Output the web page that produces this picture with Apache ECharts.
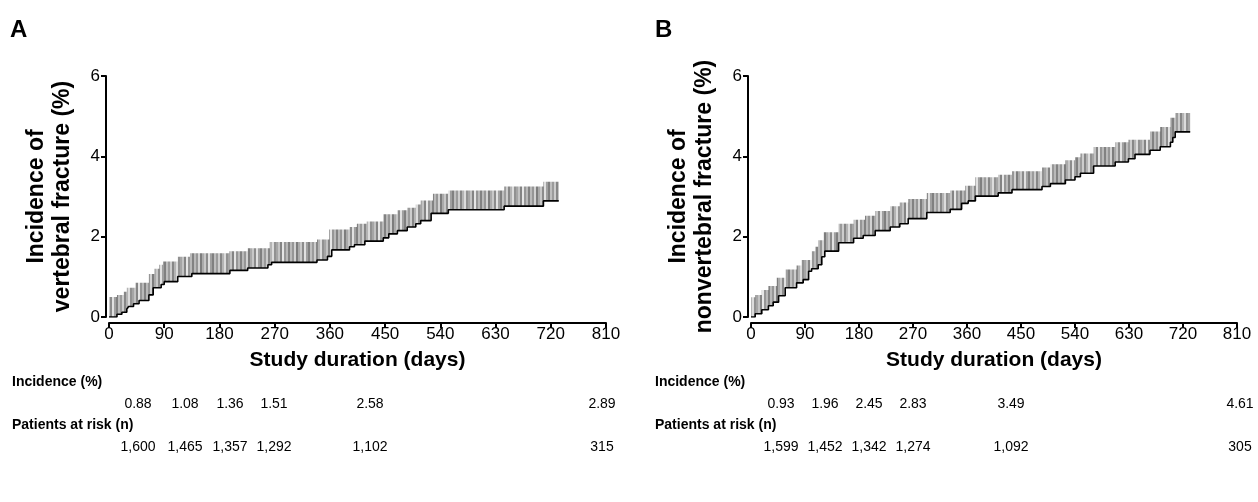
<!DOCTYPE html>
<html><head><meta charset="utf-8">
<script src="https://cdn.jsdelivr.net/npm/echarts@6/dist/echarts.min.js"></script>
<style>html,body{margin:0;padding:0;background:#fff}#c{width:1258px;height:502px}</style>
</head><body><div id="c"></div>
<script>
// ---------- data ----------
const xTickValues = [0, 90, 180, 270, 360, 450, 540, 630, 720, 810];
const yTickValues = [0, 2, 4, 6];

// Panel A: vertebral fracture (step curve, % incidence)
const aLowerDays = [0, 13, 21, 29, 32, 40, 49, 65, 72, 85, 90, 112, 135, 197, 226, 259, 265, 339, 356, 363, 392, 400, 417, 447, 456, 470, 486, 500, 508, 525, 553, 644, 708, 733];
const aLowerVals = [0, 0.07, 0.12, 0.20, 0.26, 0.33, 0.41, 0.55, 0.73, 0.81, 0.88, 1.01, 1.08, 1.16, 1.22, 1.30, 1.36, 1.42, 1.51, 1.67, 1.75, 1.80, 1.89, 1.97, 2.07, 2.15, 2.24, 2.32, 2.40, 2.58, 2.67, 2.76, 2.89, 2.89];
const aUpperDays = [0, 13, 24, 29, 43, 65, 74, 82, 88, 112, 132, 196, 226, 262, 339, 359, 392, 404, 420, 447, 470, 486, 500, 508, 528, 553, 644, 708, 733];
const aUpperVals = [0.50, 0.55, 0.63, 0.73, 0.85, 1.07, 1.20, 1.30, 1.38, 1.50, 1.59, 1.64, 1.71, 1.87, 1.93, 2.18, 2.24, 2.32, 2.38, 2.56, 2.66, 2.72, 2.80, 2.90, 3.07, 3.15, 3.25, 3.37, 3.37];

// Panel B: nonvertebral fracture
const bLowerDays = [0, 7, 18, 29, 37, 46, 57, 76, 87, 96, 101, 112, 118, 123, 146, 171, 187, 207, 232, 248, 262, 293, 332, 351, 362, 374, 412, 435, 485, 499, 524, 540, 549, 571, 607, 629, 640, 665, 682, 699, 703, 707, 732];
const bLowerVals = [0, 0.08, 0.18, 0.28, 0.37, 0.53, 0.73, 0.85, 0.93, 1.14, 1.20, 1.30, 1.50, 1.64, 1.85, 1.96, 2.03, 2.15, 2.24, 2.32, 2.45, 2.60, 2.68, 2.83, 2.89, 3.01, 3.09, 3.17, 3.25, 3.32, 3.41, 3.49, 3.58, 3.76, 3.86, 3.94, 4.05, 4.15, 4.24, 4.35, 4.47, 4.61, 4.61];
const bUpperDays = [0, 7, 18, 29, 43, 57, 76, 84, 101, 107, 112, 121, 146, 171, 190, 207, 232, 248, 262, 293, 332, 357, 374, 412, 435, 485, 499, 524, 540, 549, 571, 607, 629, 665, 682, 699, 707, 732];
const bUpperVals = [0.49, 0.55, 0.67, 0.77, 0.98, 1.18, 1.28, 1.42, 1.64, 1.75, 1.91, 2.11, 2.32, 2.42, 2.52, 2.64, 2.76, 2.85, 2.94, 3.09, 3.15, 3.27, 3.48, 3.54, 3.63, 3.72, 3.80, 3.90, 3.98, 4.07, 4.23, 4.35, 4.41, 4.62, 4.73, 4.96, 5.08, 5.08];

// Tables under the plots
const aIncidence = ['0.88', '1.08', '1.36', '1.51', '2.58', '2.89'];
const aAtRisk = ['1,600', '1,465', '1,357', '1,292', '1,102', '315'];
const bIncidence = ['0.93', '1.96', '2.45', '2.83', '3.49', '4.61'];
const bAtRisk = ['1,599', '1,452', '1,342', '1,274', '1,092', '305'];

const xAxisTitle = 'Study duration (days)';
const aYTitle = 'Incidence of\nvertebral fracture (%)';
const bYTitle = 'Incidence of\nnonvertebral fracture (%)';
const incHeader = 'Incidence (%)';
const riskHeader = 'Patients at risk (n)';

// ---------- layout ----------
const FONT = 'Liberation Sans, Arial, Helvetica, sans-serif';
const aTableX = [138, 185, 230, 274, 370, 602];
const bTableX = [781, 825, 869, 913, 1011, 1240];
const rowY = {incHead: 382, inc: 404, riskHead: 425, risk: 447};

// stripe pattern for the confidence band
function stripePattern() {
  const grays = [130,185,150,210,125,170,200,140,225,160,128,190,155,205,135,180,220,145,165,195,132,230,150,185];
  const cv = document.createElement('canvas');
  cv.width = grays.length * 2; cv.height = 4;
  const ctx = cv.getContext('2d');
  grays.forEach((g, i) => {
    ctx.fillStyle = 'rgb(' + g + ',' + g + ',' + g + ')';
    ctx.fillRect(i * 2, 0, 2, 4);
  });
  return {image: cv, repeat: 'repeat'};
}
const pattern = stripePattern();

const zip = (xs, ys) => xs.map((x, i) => [x, ys[i]]);
function stepAt(days, vals, d) {
  let v = vals[0];
  for (let i = 0; i < days.length; i++) { if (days[i] <= d) v = vals[i]; }
  return v;
}
// band items on shared breakpoints: [startDay, endDay, lower, upper]
function bandItems(loD, loV, upD, upV) {
  const days = Array.from(new Set([...loD, ...upD])).sort((a, b) => a - b);
  const items = [];
  for (let i = 0; i < days.length - 1; i++) {
    items.push([days[i], days[i + 1], stepAt(loD, loV, days[i]), stepAt(upD, upV, days[i])]);
  }
  return items;
}

function xAxisFor(gi) {
  return {
    type: 'value', gridIndex: gi, min: 0, max: 810, interval: 90, offset: 6,
    name: xAxisTitle, nameLocation: 'middle', nameGap: 27,
    nameTextStyle: {fontFamily: FONT, fontWeight: 'bold', fontSize: 21, color: '#000'},
    axisLine: {show: true, onZero: false, lineStyle: {color: '#000', width: 2}},
    axisTick: {show: true, length: 5, lineStyle: {color: '#000', width: 2}},
    axisLabel: {fontFamily: FONT, fontSize: 17, color: '#000', margin: 3},
    splitLine: {show: false}
  };
}
function yAxisFor(gi, title) {
  return {
    type: 'value', gridIndex: gi, min: 0, max: 6, interval: 2, offset: 3,
    name: title, nameLocation: 'middle', nameGap: 30, nameRotate: 90,
    nameTextStyle: {fontFamily: FONT, fontWeight: 'bold', fontSize: 23, color: '#000', lineHeight: 26},
    axisLine: {show: true, onZero: false, lineStyle: {color: '#000', width: 2}},
    axisTick: {show: true, length: 5, lineStyle: {color: '#000', width: 2}},
    axisLabel: {fontFamily: FONT, fontSize: 17, color: '#000', margin: 6},
    splitLine: {show: false}
  };
}
function bandSeries(gi, upDays, upVals, loDays, loVals) {
  const items = bandItems(loDays, loVals, upDays, upVals);
  return [
    {type: 'custom', xAxisIndex: gi, yAxisIndex: gi, silent: true, z: 2,
     data: items,
     renderItem: function (params, api) {
       if (params.dataIndex !== 0) return null;
       // one polygon for the whole band, built through the axis scales
       const top = [], bottom = [];
       items.forEach(it => {
         top.push(api.coord([it[0], it[3]]), api.coord([it[1], it[3]]));
         bottom.push(api.coord([it[0], it[2]]), api.coord([it[1], it[2]]));
       });
       const pts = top.concat(bottom.reverse());
       return {type: 'polygon', shape: {points: pts}, style: {fill: pattern}};
     }},
    {type: 'line', xAxisIndex: gi, yAxisIndex: gi, step: 'end', symbol: 'none', silent: true,
     data: zip(loDays, loVals), lineStyle: {color: '#000', width: 1.6}, z: 3}
  ];
}

function tableText(xs, incs, risks, headX) {
  const els = [];
  const st = (t, x, y, bold, align) => ({type: 'text', x: x, y: y,
    style: {text: t, font: (bold ? 'bold ' : '') + '14px ' + FONT, fill: '#000', textAlign: align, textVerticalAlign: 'middle'}});
  els.push(st(incHeader, headX, rowY.incHead, true, 'left'));
  els.push(st(riskHeader, headX, rowY.riskHead, true, 'left'));
  incs.forEach((t, i) => els.push(st(t, xs[i], rowY.inc, false, 'center')));
  risks.forEach((t, i) => els.push(st(t, xs[i], rowY.risk, false, 'center')));
  return els;
}

const chart = echarts.init(document.getElementById('c'), null, {renderer: 'canvas'});
chart.setOption({
  backgroundColor: '#fff',
  animation: false,
  grid: [
    {left: 109, top: 76, width: 497, height: 241},
    {left: 751, top: 76, width: 486, height: 241}
  ],
  xAxis: [xAxisFor(0), xAxisFor(1)],
  yAxis: [yAxisFor(0, aYTitle), yAxisFor(1, bYTitle)],
  series: [
    ...bandSeries(0, aUpperDays, aUpperVals, aLowerDays, aLowerVals),
    ...bandSeries(1, bUpperDays, bUpperVals, bLowerDays, bLowerVals)
  ],
  graphic: [
    {type: 'text', x: 10, y: 30, style: {text: 'A', font: 'bold 24px ' + FONT, fill: '#000', textVerticalAlign: 'middle'}},
    {type: 'text', x: 655, y: 30, style: {text: 'B', font: 'bold 24px ' + FONT, fill: '#000', textVerticalAlign: 'middle'}},
    ...tableText(aTableX, aIncidence, aAtRisk, 12),
    ...tableText(bTableX, bIncidence, bAtRisk, 655)
  ]
});
</script></body></html>
